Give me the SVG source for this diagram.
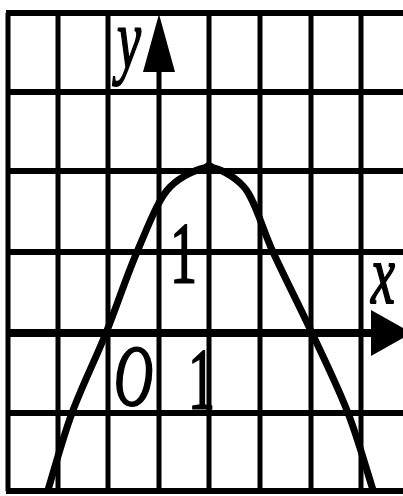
<svg xmlns="http://www.w3.org/2000/svg" width="403" height="496" viewBox="0 0 403 496">
<style>
.v{stroke:#000;stroke-width:5;fill:none}
.h{stroke:#000;stroke-width:6;fill:none}
.lbl{font-family:"Liberation Serif","Times New Roman",serif;font-size:54px;fill:#000;stroke:#000;stroke-width:1.2}
.it{font-style:italic}
</style>
<rect width="403" height="496" fill="#fff"/>
<g id="grid">
<path class="v" d="M8,13V491M58,13V491M108,13V491M209,13V491M260,13V491M311,13V491M361,13V491"/>
<path class="h" d="M6,13H403M6,92H403M6,171H403M6,252H403M6,413H403M6,491H403"/>
</g>
<g id="axes">
<path d="M159,491V60" stroke="#000" stroke-width="5" fill="none"/>
<polygon points="159,14 143,72 175,72" fill="#000"/>
<path d="M6,333H380" stroke="#000" stroke-width="8" fill="none"/>
<polygon points="371,310 371,356 412,333" fill="#000"/>
</g>
<g id="curve">
<path d="M48,490C52,477.2 62.3,439.2 72,413C81.7,386.8 95.2,359.8 106,333C116.8,306.2 126.3,276.7 137,252C147.7,227.3 158,199 170,187C182,175 200,168 209,167C218,168 233.3,175 244,187C254.7,199 261.7,227.3 273,252C284.3,276.7 299.5,306.2 312,333C324.5,359.8 337.8,386.8 348,413C358.2,439.2 368.8,477.2 373,490" stroke="#000" stroke-width="7" fill="none"/>
<circle cx="209" cy="168" r="6" fill="#000"/>
</g>
<g id="labels">
<text class="lbl it" transform="translate(117,68) scale(1,1.55)">y</text>
<text class="lbl it" transform="translate(371,303) scale(1,1.55)">x</text>
<text class="lbl" transform="translate(170,282) scale(1,1.6)">1</text>
<text class="lbl" transform="translate(188,408) scale(1,1.6)">1</text>
<text class="lbl it" transform="translate(114,405) scale(1,1.6)">O</text>
</g>
</svg>
